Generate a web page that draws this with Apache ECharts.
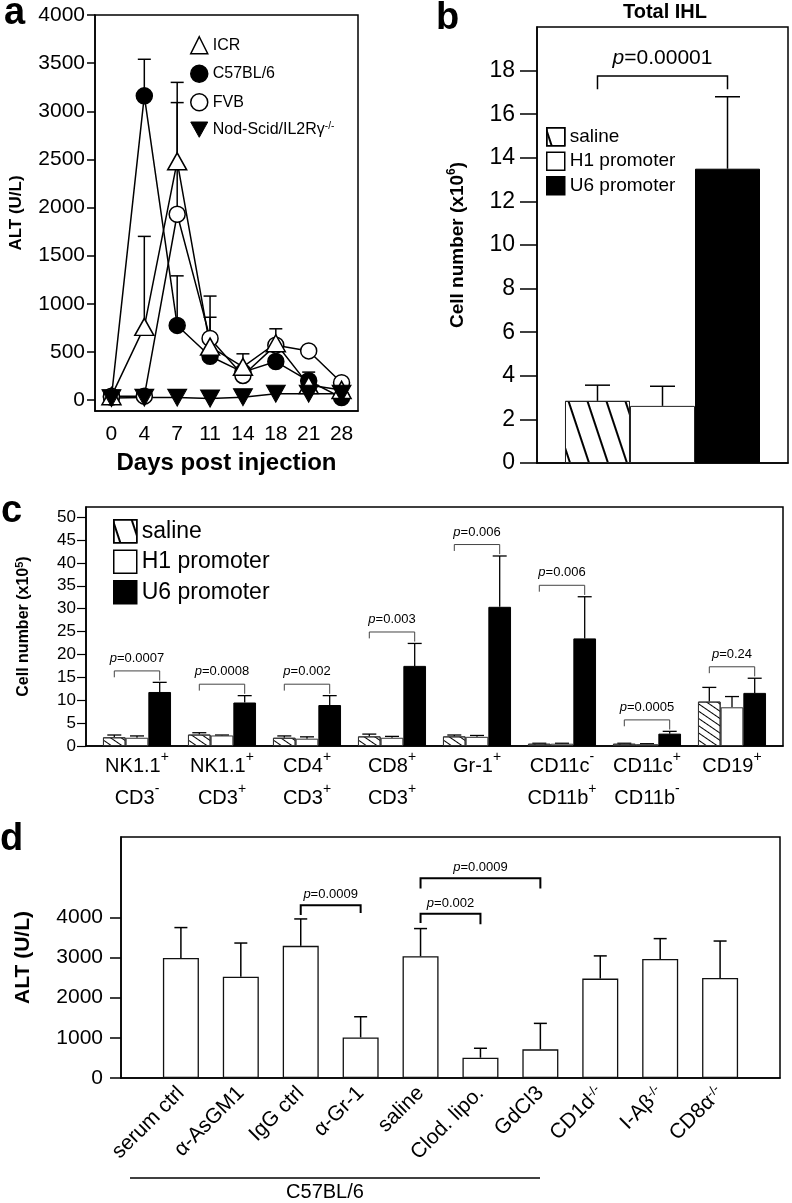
<!DOCTYPE html>
<html><head><meta charset="utf-8">
<script src="https://cdn.jsdelivr.net/npm/echarts@6/dist/echarts.min.js"></script>
<style>html,body{margin:0;padding:0;background:#fff}#c{width:792px;height:1203px}</style>
</head><body><div id="c"></div>
<script>
// ---------- Panel a ----------
const aDays = ['0','4','7','11','14','18','21','28'];
const aICR  = [40, 760, 2480, 555, 345, 590, 155, 105];
const aICRUp = [null, 1700, 3300, 860, 480, 740, null, null];
const aC57  = [30, 3160, 775, 455, 290, 400, 200, 25];
const aC57Up = [null, 3540, 1290, null, null, null, 290, null];
const aFVB  = [40, 40, 1930, 640, 255, 570, 510, 180];
const aFVBUp = [null, null, 3090, 1080, null, null, null, null];
const aNod  = [20, 25, 25, 15, 30, 65, 65, 65];
const aYTicks = [0, 500, 1000, 1500, 2000, 2500, 3000, 3500, 4000];
// ---------- Panel b ----------
const bGroups = ['saline', 'H1 promoter', 'U6 promoter'];
const bMean = [2.85, 2.62, 13.5];
const bUp   = [3.57, 3.52, 16.8];
const bYTicks = [0, 2, 4, 6, 8, 10, 12, 14, 16, 18];
const bBracket = [0, 0, 17.75, 17.15, 17.15, 0, 2, 3];
const bPval = '0.00001';
// ---------- Panel c ----------
const cLine1 = ['NK1.1','NK1.1','CD4','CD8','Gr-1','CD11c','CD11c','CD19'];
const cSup1  = ['+','+','+','+','+','-','+','+'];
const cLine2 = ['CD3','CD3','CD3','CD3','','CD11b','CD11b',''];
const cSup2  = ['-','+','+','+','','+','-',''];
const cSaline   = [1.9, 2.5, 1.8, 2.1, 2.1, 0.5, 0.5, 9.7];
const cSalineUp = [2.4, 2.9, 2.2, 2.6, 2.4, 0.6, 0.6, 12.8];
const cH1   = [1.8, 2.3, 1.6, 1.8, 2.0, 0.5, 0.4, 8.45];
const cH1Up = [2.2, 2.4, 2.0, 2.1, 2.3, 0.6, 0.5, 10.8];
const cU6   = [11.8, 9.5, 8.95, 17.5, 30.4, 23.5, 2.7, 11.6];
const cU6Up = [13.9, 11.0, 11.0, 22.4, 41.5, 32.6, 3.2, 14.8];
const cPvals = ['0.0007','0.0008','0.002','0.003','0.006','0.006','0.0005','0.24'];
const cYTicks = [0, 5, 10, 15, 20, 25, 30, 35, 40, 45, 50];
// ---------- Panel d ----------
const dCats = ['serum ctrl','\u03b1-AsGM1','IgG ctrl','\u03b1-Gr-1','saline','Clod. lipo.','GdCl3','CD1d','I-A\u03b2','CD8\u03b1'];
const dSup  = ['','','','','','','','-/-','-/-','-/-'];
const dMean = [2990, 2520, 3290, 1010, 3030, 505, 713, 2475, 2965, 2490];
const dUp   = [3745, 3360, 3960, 1525, 3720, 740, 1360, 3040, 3470, 3410];
const dYTicks = [0, 1000, 2000, 3000, 4000];
const dBrackets = [[2, 3, 4300, 4060, 4110, 0, 0, 1], [4, 5, 4090, 3860, 3830, 0, 0, 1], [4, 6, 4975, 4720, 4720, 0, 0, 1]];
const dPvals = ['0.0009', '0.002', '0.0009'];

const FF = '"Liberation Sans", Arial, Helvetica, sans-serif';
const BLACK = '#000';

function errRender(frac, capW, lw) {
  return function (params, api) {
    const x = api.value(0), v = api.value(1), up = api.value(2), k = api.value(3), n = api.value(4);
    const bw = api.size([1, 0])[0] * frac;
    const off = (k - (n - 1) / 2) * bw;
    const p0 = api.coord([x, v]), p1 = api.coord([x, up]);
    const cx = p0[0] + off;
    return { type: 'group', children: [
      { type: 'line', shape: { x1: cx, y1: p0[1], x2: cx, y2: p1[1] }, style: { stroke: BLACK, lineWidth: lw } },
      { type: 'line', shape: { x1: cx - capW / 2, y1: p1[1], x2: cx + capW / 2, y2: p1[1] }, style: { stroke: BLACK, lineWidth: lw } }
    ]};
  };
}
function bracketRender(frac, pv, fontSize, lw, color, gap) {
  return function (params, api) {
    const xl = api.value(0), xr = api.value(1), lvl = api.value(2), el = api.value(3), er = api.value(4);
    const kl = api.value(5), kr = api.value(6), n = api.value(7);
    const bw = api.size([1, 0])[0] * frac;
    const L = api.coord([xl, lvl]), R = api.coord([xr, lvl]);
    const lx = L[0] + (kl - (n - 1) / 2) * bw, rx = R[0] + (kr - (n - 1) / 2) * bw;
    const yl = L[1], yel = api.coord([xl, el])[1], yer = api.coord([xr, er])[1];
    return { type: 'group', children: [
      { type: 'polyline', shape: { points: [[lx, yel], [lx, yl], [rx, yl], [rx, yer]] }, style: { stroke: color, lineWidth: lw, fill: null } },
      { type: 'text', x: (lx + rx) / 2, y: yl - gap, style: {
          text: '{i|p}=' + pv[params.dataIndex], fontSize: fontSize, fontFamily: FF, fill: BLACK,
          align: 'center', verticalAlign: 'middle', textAlign: 'center', textVerticalAlign: 'middle',
          rich: { i: { fontStyle: 'italic', fontSize: fontSize, fontFamily: FF, fill: BLACK } } } }
    ]};
  };
}
function errData(means, ups, k, n) {
  const out = [];
  means.forEach((m, i) => { if (ups[i] != null) out.push([i, m, ups[i], k, n]); });
  return out;
}

const salineDecalB = { symbol: 'rect', symbolSize: 1, dashArrayX: [1, 0], dashArrayY: [1.5, 16], rotation: 1.25, color: BLACK };
const salineDecalC = { symbol: 'rect', symbolSize: 1, dashArrayX: [1, 0], dashArrayY: [1, 5], rotation: 0.6, color: BLACK };
const gridBase = { show: true, borderColor: BLACK, borderWidth: 1.5, backgroundColor: 'transparent', containLabel: false, outerBoundsMode: 'none' };
const plain = v => String(v);
const lbl = (size, margin) => ({ color: BLACK, fontSize: size, fontFamily: FF, margin: margin });
const axLine = { show: true, onZero: false, lineStyle: { color: BLACK, width: 1.5 } };

const cIdx = cLine1.map((_, i) => i);
const dIdx = dCats.map((_, i) => i);
const supRich = (fs, lh) => ({ sup: { fontSize: fs, fontFamily: FF, color: BLACK, verticalAlign: 'top', lineHeight: lh } });

const option = {
  animation: false,
  backgroundColor: '#fff',
  textStyle: { fontFamily: FF, color: BLACK },
  grid: [
    Object.assign({ left: 95, top: 15, width: 263, height: 396 }, gridBase),
    Object.assign({ left: 537, top: 27, width: 251, height: 436 }, gridBase),
    Object.assign({ left: 86, top: 507, width: 697, height: 239 }, gridBase),
    Object.assign({ left: 121, top: 837, width: 659, height: 241 }, gridBase)
  ],
  xAxis: [
    { gridIndex: 0, type: 'category', data: aDays, boundaryGap: true, axisLine: axLine, axisTick: { show: false },
      axisLabel: lbl(21, 13), name: 'Days post injection', nameLocation: 'middle', nameGap: 40,
      nameTextStyle: { fontSize: 24, fontWeight: 'bold', fontFamily: FF, color: BLACK } },
    { gridIndex: 1, type: 'category', data: ['Total IHL'], axisLine: axLine, axisTick: { show: false }, axisLabel: { show: false } },
    { gridIndex: 2, type: 'value', min: -0.6, max: 7.6, splitLine: { show: false }, axisLine: axLine, axisTick: { show: false },
      axisLabel: Object.assign(lbl(20, 4), { customValues: cIdx, lineHeight: 32, rich: supRich(14, 14),
        formatter: v => { const i = Math.round(v); let s = cLine1[i] + '{sup|' + cSup1[i] + '}';
          if (cLine2[i]) s += '\n' + cLine2[i] + '{sup|' + cSup2[i] + '}'; return s; } }) },
    { gridIndex: 3, type: 'value', min: -1, max: 10, splitLine: { show: false }, axisLine: axLine, axisTick: { show: false },
      axisLabel: Object.assign(lbl(21, 12), { customValues: dIdx, rotate: 45, rich: supRich(13, 12),
        formatter: v => { const i = Math.round(v); return dCats[i] + (dSup[i] ? '{sup|' + dSup[i] + '}' : ''); } }) }
  ],
  yAxis: [
    { gridIndex: 0, type: 'value', min: -114, max: 4000, splitLine: { show: false }, axisLine: axLine,
      axisTick: { show: true, length: 8, customValues: aYTicks, lineStyle: { color: BLACK, width: 1.5 } },
      axisLabel: Object.assign(lbl(21, 10), { customValues: aYTicks, formatter: plain }),
      name: 'ALT (U/L)', nameLocation: 'middle', nameRotate: 90, nameGap: 70,
      nameTextStyle: { fontSize: 17, fontWeight: 'bold', fontFamily: FF, color: BLACK } },
    { gridIndex: 1, type: 'value', min: 0, max: 20, splitLine: { show: false }, axisLine: axLine,
      axisTick: { show: true, length: 17, customValues: bYTicks, lineStyle: { color: BLACK, width: 1.5 } },
      axisLabel: Object.assign(lbl(23, 22), { customValues: bYTicks, formatter: plain }),
      name: 'Cell number (x10{sup|6})', nameLocation: 'middle', nameRotate: 90, nameGap: 67,
      nameTextStyle: { fontSize: 19, fontWeight: 'bold', fontFamily: FF, color: BLACK, lineHeight: 24,
        rich: { sup: { fontSize: 12, fontWeight: 'bold', fontFamily: FF, color: BLACK, verticalAlign: 'top', lineHeight: 12 } } } },
    { gridIndex: 2, type: 'value', min: 0, max: 52.2, splitLine: { show: false }, axisLine: axLine,
      axisTick: { show: true, length: 9, customValues: cYTicks, lineStyle: { color: BLACK, width: 1.2 } },
      axisLabel: Object.assign(lbl(17, 10), { customValues: cYTicks, formatter: plain }),
      name: 'Cell number (x10{sup|5})', nameLocation: 'middle', nameRotate: 90, nameGap: 52,
      nameTextStyle: { fontSize: 16, fontWeight: 'bold', fontFamily: FF, color: BLACK, lineHeight: 20,
        rich: { sup: { fontSize: 11, fontWeight: 'bold', fontFamily: FF, color: BLACK, verticalAlign: 'top', lineHeight: 10 } } } },
    { gridIndex: 3, type: 'value', min: 0, max: 6000, splitLine: { show: false }, axisLine: axLine,
      axisTick: { show: true, length: 11, customValues: dYTicks, lineStyle: { color: BLACK, width: 1.5 } },
      axisLabel: Object.assign(lbl(21, 18), { customValues: dYTicks, formatter: plain }),
      name: 'ALT (U/L)', nameLocation: 'middle', nameRotate: 90, nameGap: 87,
      nameTextStyle: { fontSize: 21, fontWeight: 'bold', fontFamily: FF, color: BLACK } }
  ],
  legend: [
    { orient: 'vertical', left: 185, top: 31, itemWidth: 17, itemHeight: 17, itemGap: 10, selectedMode: false,
      textStyle: { fontSize: 16, fontFamily: FF, color: BLACK, rich: { sup: { fontSize: 10, fontFamily: FF, color: BLACK, verticalAlign: 'top', lineHeight: 10 } } },
      formatter: n => n === 'Nod-Scid/IL2R\u03b3' ? n + '{sup|-/-}' : n,
      data: [
        { name: 'ICR', icon: 'triangle', itemStyle: { color: '#fff', borderColor: BLACK, borderWidth: 1.5 } },
        { name: 'C57BL/6', icon: 'circle', itemStyle: { color: BLACK, borderColor: BLACK, borderWidth: 1.5 } },
        { name: 'FVB', icon: 'circle', itemStyle: { color: '#fff', borderColor: BLACK, borderWidth: 1.5 } },
        { name: 'Nod-Scid/IL2R\u03b3', icon: 'path://M0,0 L10,0 L5,9 Z', itemStyle: { color: BLACK, borderColor: BLACK, borderWidth: 1 } }
      ] },
    { orient: 'vertical', left: 541, top: 122, itemWidth: 18, itemHeight: 18, itemGap: 5, selectedMode: false,
      textStyle: { fontSize: 19, fontFamily: FF, color: BLACK },
      data: [
        { name: 'saline', icon: 'rect', itemStyle: { color: '#fff', borderColor: BLACK, borderWidth: 1.5, decal: salineDecalB } },
        { name: 'H1 promoter', icon: 'rect', itemStyle: { color: '#fff', borderColor: BLACK, borderWidth: 1.5, decal: 'none' } },
        { name: 'U6 promoter', icon: 'rect', itemStyle: { color: BLACK, borderColor: BLACK, borderWidth: 1.5, decal: 'none' } }
      ] },
    { orient: 'vertical', left: 108, top: 514, itemWidth: 23, itemHeight: 23, itemGap: 6, selectedMode: false,
      textStyle: { fontSize: 23, fontFamily: FF, color: BLACK },
      data: [
        { name: 'saline', icon: 'rect', itemStyle: { color: '#fff', borderColor: BLACK, borderWidth: 1.5, decal: salineDecalB } },
        { name: 'H1 promoter', icon: 'rect', itemStyle: { color: '#fff', borderColor: BLACK, borderWidth: 1.5, decal: 'none' } },
        { name: 'U6 promoter', icon: 'rect', itemStyle: { color: BLACK, borderColor: BLACK, borderWidth: 1.5, decal: 'none' } }
      ] }
  ],
  graphic: [
    { type: 'text', x: 4, y: 14, style: { text: 'a', font: 'bold 38px ' + FF, fill: BLACK, textVerticalAlign: 'middle', verticalAlign: 'middle' } },
    { type: 'text', x: 436, y: 19, style: { text: 'b', font: 'bold 38px ' + FF, fill: BLACK, textVerticalAlign: 'middle', verticalAlign: 'middle' } },
    { type: 'text', x: 1, y: 512, style: { text: 'c', font: 'bold 38px ' + FF, fill: BLACK, textVerticalAlign: 'middle', verticalAlign: 'middle' } },
    { type: 'text', x: 0, y: 840, style: { text: 'd', font: 'bold 38px ' + FF, fill: BLACK, textVerticalAlign: 'middle', verticalAlign: 'middle' } },
    { type: 'text', x: 665, y: 12, style: { text: 'Total IHL', font: 'bold 20px ' + FF, fill: BLACK, textAlign: 'center', align: 'center', textVerticalAlign: 'middle', verticalAlign: 'middle' } },
    { type: 'line', shape: { x1: 130, y1: 1178, x2: 540, y2: 1178 }, style: { stroke: BLACK, lineWidth: 1.5 } },
    { type: 'text', x: 325, y: 1192, style: { text: 'C57BL/6', font: '20px ' + FF, fill: BLACK, textAlign: 'center', align: 'center', textVerticalAlign: 'middle', verticalAlign: 'middle' } }
  ],
  series: [
    { type: 'custom', xAxisIndex: 0, yAxisIndex: 0, z: 1, renderItem: errRender(0, 13, 1.5),
      data: [].concat(errData(aICR, aICRUp, 0, 1), errData(aC57, aC57Up, 0, 1), errData(aFVB, aFVBUp, 0, 1)) },
    { name: 'C57BL/6', type: 'line', xAxisIndex: 0, yAxisIndex: 0, data: aC57, symbol: 'circle', symbolSize: 16, z: 3,
      lineStyle: { color: BLACK, width: 1.5 }, itemStyle: { color: BLACK, borderColor: BLACK, borderWidth: 1.5 } },
    { name: 'FVB', type: 'line', xAxisIndex: 0, yAxisIndex: 0, data: aFVB, symbol: 'circle', symbolSize: 16, z: 3,
      lineStyle: { color: BLACK, width: 1.5 }, itemStyle: { color: '#fff', borderColor: BLACK, borderWidth: 1.5 } },
    { name: 'ICR', type: 'line', xAxisIndex: 0, yAxisIndex: 0, data: aICR, symbol: 'triangle', symbolSize: [19, 17], z: 3,
      lineStyle: { color: BLACK, width: 1.5 }, itemStyle: { color: '#fff', borderColor: BLACK, borderWidth: 1.5 } },
    { name: 'Nod-Scid/IL2R\u03b3', type: 'line', xAxisIndex: 0, yAxisIndex: 0, data: aNod, symbol: 'triangle', symbolRotate: 180, symbolSize: [19, 17], z: 3,
      lineStyle: { color: BLACK, width: 1.5 }, itemStyle: { color: BLACK, borderColor: BLACK, borderWidth: 1 } },
    { name: 'saline', type: 'bar', xAxisIndex: 1, yAxisIndex: 1, data: [bMean[0]], barWidth: '25.9%', barGap: '0%',
      itemStyle: { color: '#fff', borderColor: '#222', borderWidth: 1, decal: salineDecalB } },
    { name: 'H1 promoter', type: 'bar', xAxisIndex: 1, yAxisIndex: 1, data: [bMean[1]], barWidth: '25.9%', barGap: '0%',
      itemStyle: { color: '#fff', borderColor: '#222', borderWidth: 1 } },
    { name: 'U6 promoter', type: 'bar', xAxisIndex: 1, yAxisIndex: 1, data: [bMean[2]], barWidth: '25.9%', barGap: '0%',
      itemStyle: { color: BLACK, borderColor: BLACK, borderWidth: 1 } },
    { type: 'custom', xAxisIndex: 1, yAxisIndex: 1, z: 1, renderItem: errRender(0.259, 25, 1.5),
      data: bMean.map((m, k) => [0, m, bUp[k], k, 3]) },
    { type: 'custom', xAxisIndex: 1, yAxisIndex: 1, renderItem: bracketRender(0.259, [bPval], 21, 1.5, BLACK, 18), data: [bBracket] },
    { name: 'saline', type: 'bar', xAxisIndex: 2, yAxisIndex: 2, data: cSaline.map((v, i) => [i, v]), barWidth: '26.7%', barGap: '0%',
      itemStyle: { color: '#fff', borderColor: '#333', borderWidth: 1, decal: salineDecalC } },
    { name: 'H1 promoter', type: 'bar', xAxisIndex: 2, yAxisIndex: 2, data: cH1.map((v, i) => [i, v]), barWidth: '26.7%', barGap: '0%',
      itemStyle: { color: '#fff', borderColor: '#333', borderWidth: 1 } },
    { name: 'U6 promoter', type: 'bar', xAxisIndex: 2, yAxisIndex: 2, data: cU6.map((v, i) => [i, v]), barWidth: '26.7%', barGap: '0%',
      itemStyle: { color: BLACK, borderColor: BLACK, borderWidth: 1 } },
    { type: 'custom', xAxisIndex: 2, yAxisIndex: 2, z: 1, renderItem: errRender(0.267, 14, 1.3),
      data: [].concat(errData(cSaline, cSalineUp, 0, 3), errData(cH1, cH1Up, 1, 3), errData(cU6, cU6Up, 2, 3)) },
    { type: 'custom', xAxisIndex: 2, yAxisIndex: 2, renderItem: bracketRender(0.267, cPvals, 13, 1, '#444', 12.5),
      data: cU6Up.map((u, i) => [i, i, u + 2.5, u + 1.1, u + 0.4, 0, 2, 3]) },
    { name: 'ALT', type: 'bar', xAxisIndex: 3, yAxisIndex: 3, data: dMean.map((v, i) => [i, v]), barWidth: 36,
      itemStyle: { color: '#fff', borderColor: '#111', borderWidth: 1.3 } },
    { type: 'custom', xAxisIndex: 3, yAxisIndex: 3, z: 1, renderItem: errRender(0, 13, 1.5), data: errData(dMean, dUp, 0, 1) },
    { type: 'custom', xAxisIndex: 3, yAxisIndex: 3, renderItem: bracketRender(0, dPvals, 13, 2, BLACK, 10.5), data: dBrackets }
  ]
};
const chart = echarts.init(document.getElementById('c'), null, { renderer: 'canvas', width: 792, height: 1203 });
chart.setOption(option);
</script></body></html>
